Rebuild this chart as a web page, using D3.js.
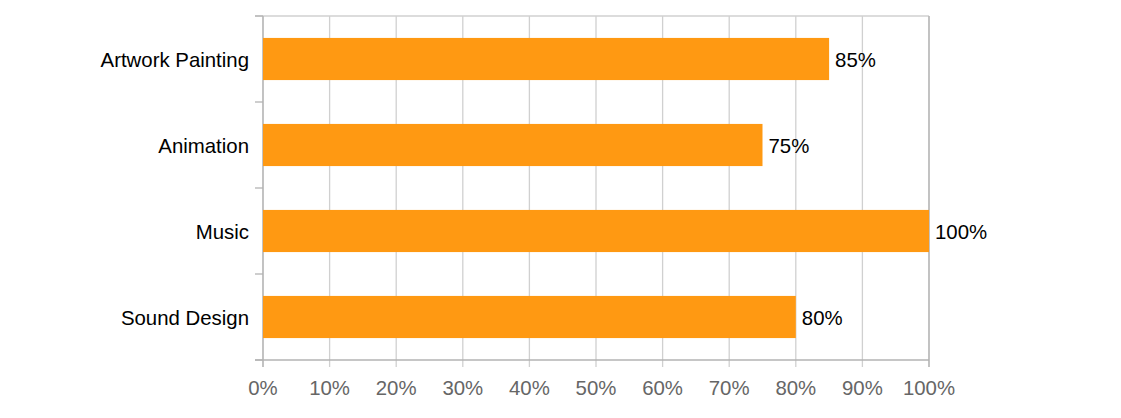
<!DOCTYPE html>
<html><head><meta charset="utf-8">
<script src="https://cdn.jsdelivr.net/npm/d3@7"></script>
<style>body{margin:0;background:#fff}text{font-family:"Liberation Sans",Arial,sans-serif}</style>
</head><body>
<svg id="c" width="1121" height="418"></svg>
<script>
const categories = ["Artwork Painting","Animation","Music","Sound Design"];
const values = [85,75,100,80];
const tickValues = [0,10,20,30,40,50,60,70,80,90,100];

const svg = d3.select("#c");
const L = 263, R = 929, T = 16, B = 360;
const x = d3.scaleLinear().domain([0,100]).range([L,R]);
const y = d3.scaleBand().domain(categories).range([T,B]).paddingInner(0.51).paddingOuter(0.255);
const band = (B-T)/categories.length;
const fs = 20.4;

// vertical gridlines
svg.append("g").selectAll("line").data(tickValues).join("line")
  .attr("x1",d=>x(d)).attr("x2",d=>x(d)).attr("y1",T).attr("y2",B+7)
  .attr("stroke","#d0d0d0").attr("stroke-width",1.3);
// top line
svg.append("line").attr("x1",L-8).attr("x2",R).attr("y1",T).attr("y2",T).attr("stroke","#d0d0d0").attr("stroke-width",1.3);
// category ticks
const bounds = d3.range(categories.length+1).map(i=>T+i*band);
svg.append("g").selectAll("line").data(bounds).join("line")
  .attr("x1",L-8).attr("x2",L).attr("y1",d=>d).attr("y2",d=>d)
  .attr("stroke","#b3b3b3").attr("stroke-width",1.3);
// axes lines
svg.append("line").attr("x1",L).attr("x2",L).attr("y1",T).attr("y2",B+7).attr("stroke","#b3b3b3").attr("stroke-width",1.3);
svg.append("line").attr("x1",L-8).attr("x2",R).attr("y1",B).attr("y2",B).attr("stroke","#b3b3b3").attr("stroke-width",1.3);
svg.append("line").attr("x1",R).attr("x2",R).attr("y1",T).attr("y2",B+7).attr("stroke","#b3b3b3").attr("stroke-width",1.3);

// bars
svg.append("g").selectAll("rect").data(categories).join("rect")
  .attr("x",L).attr("y",d=>y(d)).attr("width",(d,i)=>x(values[i])-L).attr("height",y.bandwidth())
  .attr("fill","#ff9912");

// value labels
svg.append("g").selectAll("text").data(categories).join("text")
  .attr("x",(d,i)=>x(values[i])+6).attr("y",d=>y(d)+y.bandwidth()/2).attr("dy","0.4em")
  .attr("font-size",fs).attr("fill","#000").text((d,i)=>values[i]+"%");

// category labels
svg.append("g").selectAll("text").data(categories).join("text")
  .attr("x",249).attr("y",d=>y(d)+y.bandwidth()/2).attr("dy","0.4em").attr("text-anchor","end")
  .attr("font-size",fs).attr("fill","#000").text(d=>d);

// x tick labels
svg.append("g").selectAll("text").data(tickValues).join("text")
  .attr("x",d=>x(d)).attr("y",395).attr("text-anchor","middle")
  .attr("font-size",fs).attr("fill","#666").text(d=>d+"%");
</script>
</body></html>
